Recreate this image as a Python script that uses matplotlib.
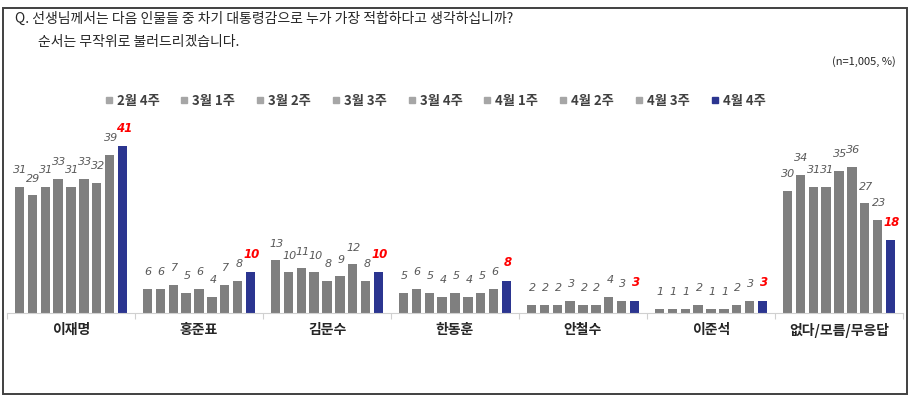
import matplotlib.pyplot as plt
import numpy as np
from matplotlib.lines import Line2D
from matplotlib.patches import Rectangle

plt.rcParams['font.family'] = ['Noto Sans CJK KR', 'DejaVu Sans']

# data
candidates = ['이재명', '홍준표', '김문수', '한동훈', '안철수', '이준석', '없다/모름/무응답']
weeks = ['2월 4주', '3월 1주', '3월 2주', '3월 3주', '3월 4주',
         '4월 1주', '4월 2주', '4월 3주', '4월 4주']
lee_jm = [31, 29, 31, 33, 31, 33, 32, 39, 41]
hong = [6, 6, 7, 5, 6, 4, 7, 8, 10]
kim = [13, 10, 11, 10, 8, 9, 12, 8, 10]
han = [5, 6, 5, 4, 5, 4, 5, 6, 8]
ahn = [2, 2, 2, 3, 2, 2, 4, 3, 3]
lee_js = [1, 1, 1, 2, 1, 1, 2, 3, 3]
none_ = [30, 34, 31, 31, 35, 36, 27, 23, 18]
series = [lee_jm, hong, kim, han, ahn, lee_js, none_]

gray = '#7f7f7f'
navy = '#2b3590'

fig = plt.figure(figsize=(9.16, 3.99), dpi=100)
ax = fig.add_axes([7/916, 86/399, 896/916, 195/399])

x = np.arange(len(candidates))
step = 0.101
bw = 0.072
for gi, vals in enumerate(series):
    for wi, v in enumerate(vals):
        xp = x[gi] + (wi - 4) * step
        last = wi == len(weeks) - 1
        ax.bar(xp, v, width=bw, color=navy if last else gray, zorder=2)
        ax.text(xp + 0.008, v + (4.4 if last else 4.1), str(v), ha='center', va='center',
                fontsize=8.5 if last else 8,
                color='#ff0000' if last else '#595959',
                style='italic', fontweight='bold' if last else 'normal',
                family=['DejaVu Sans'])

ax.set_xlim(-0.5, len(candidates) - 0.5)
ax.set_ylim(0, 48)
for s in ['top', 'right', 'left']:
    ax.spines[s].set_visible(False)
ax.spines['bottom'].set_color('#d0d0d0')
ax.set_yticks([])
ax.set_xticks(np.arange(len(candidates) + 1) - 0.5, minor=False)
ax.set_xticklabels([])
ax.tick_params(axis='x', length=4, color='#d0d0d0')
for i, c in enumerate(candidates):
    ax.text(x[i], -2.4, c, ha='center', va='top', fontsize=10,
            fontweight='bold', color='#262626')

# legend
handles = [Line2D([], [], marker='s', linestyle='none', markersize=4.5,
                  color=navy if i == len(weeks) - 1 else '#a6a6a6')
           for i in range(len(weeks))]
leg = fig.legend(handles, weeks, ncol=9, loc='center', bbox_to_anchor=(0.475, 0.748),
                 frameon=False, handlelength=0.6, handletextpad=0.3, columnspacing=1.6,
                 prop={'size': 9.5, 'weight': 'bold'})
for t in leg.get_texts():
    t.set_color('#404040')

fig.text(15/916, 1 - 19/399, 'Q. 선생님께서는 다음 인물들 중 차기 대통령감으로 누가 가장 적합하다고 생각하십니까?',
         fontsize=10, va='center', ha='left', color='#262626')
fig.text(38/916, 1 - 42/399, '순서는 무작위로 불러드리겠습니다.',
         fontsize=10, va='center', ha='left', color='#262626')
fig.text(896/916, 1 - 62/399, '(n=1,005, %)', fontsize=8, va='center', ha='right',
         color='#262626')

fig.patches.append(Rectangle((3/916, 5/399), 904/916, 386/399, transform=fig.transFigure,
                             fill=False, edgecolor='#404040', linewidth=1.4))

plt.savefig('out.png', dpi=100)
